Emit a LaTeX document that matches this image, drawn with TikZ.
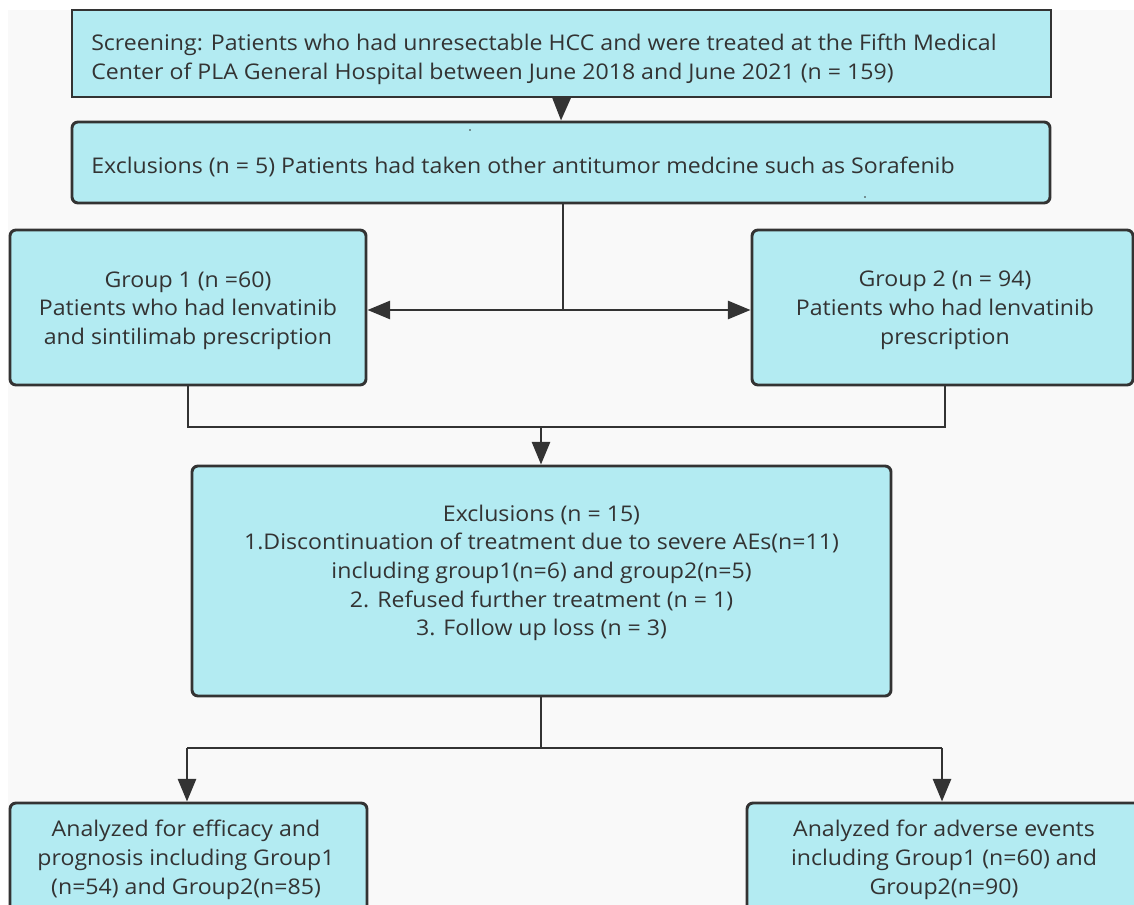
\documentclass[tikz,border=0pt]{standalone}
\usepackage{fontspec}
\setmainfont[FakeStretch=1.07]{Open Sans}
\usetikzlibrary{arrows.meta}
\definecolor{boxfill}{HTML}{B3EBF2}
\definecolor{ink}{HTML}{333333}
\definecolor{txtc}{HTML}{333333}
\definecolor{bggray}{HTML}{F9F9F9}
\tikzset{
  box/.style={draw=ink, fill=boxfill, line width=2.2pt, rounded corners=4.5pt, inner sep=0pt},
  sharpbox/.style={box, rounded corners=0pt},
  txt/.style={text=txtc, font=\fontsize{16.2}{21.5}\selectfont, align=center, inner sep=0pt, yshift=-2.2pt},
  conn/.style={draw=ink, line width=2.1pt},
  arr/.style={conn, -{Triangle[length=17pt,width=13.5pt]}},
}
\begin{document}
\begin{tikzpicture}[x=0.75pt,y=-0.75pt]
\useasboundingbox (0,0) rectangle (1134,905);
\clip (0,0) rectangle (1134,905);
\fill[bggray] (8,10) rectangle (1134,905);
% boxes
\node[sharpbox, minimum width=734.25pt, minimum height=65.25pt] (top) at (561.5,53.5) {};
\node[txt, align=left, anchor=west] (topt) at (91,56.5) {Screening: Patients who had unresectable HCC and were treated at the Fifth Medical\\Center of PLA General Hospital between June 2018 and June 2021 (n = 159)};
\node[box, minimum width=733.5pt, minimum height=60.75pt] (excl) at (561,162.5) {};
\node[txt, anchor=west] (exclt) at (91,164) {Exclusions (n = 5) Patients had taken other antitumor medcine such as Sorafenib};
\node[box, minimum width=267pt, minimum height=116.25pt] (g1) at (188,307.5) {};
\node[txt] (g1t) at (188,307.5) {Group 1 (n =60)\\Patients who had lenvatinib\\and sintilimab prescription};
\node[box, minimum width=285.75pt, minimum height=116.25pt] (g2) at (942.5,307.5) {};
\node[txt] (g2t) at (945,307.5) {Group 2 (n = 94)\\Patients who had lenvatinib\\prescription};
\node[box, minimum width=524.25pt, minimum height=172.5pt] (e15) at (541.5,581) {};
\node[txt] (e15t) at (541.5,570) {Exclusions (n = 15)\\1.Discontinuation of treatment due to severe AEs(n=11)\\including group1(n=6) and group2(n=5)\\2. Refused further treatment (n = 1)\\3. Follow up loss (n = 3)};
\node[box, minimum width=267.75pt, minimum height=84pt] (bl) at (188.5,859) {};
\node[txt] (blt) at (186,857) {Analyzed for efficacy and\\prognosis including Group1\\(n=54) and Group2(n=85)};
\node[box, minimum width=298.5pt, minimum height=84pt] (br) at (946,859) {};
\node[txt] (brt) at (944,857) {Analyzed for adverse events\\including Group1 (n=60) and\\Group2(n=90)};
% stray dots
\fill[ink] (470,130) circle (0.9);
\fill[ink] (865,197) circle (0.9);
% connectors
\draw[arr] (top.south) -- (excl.north);
\coordinate (j1) at (563,310);
\draw[conn] (excl.south -| j1) -- (j1);
\draw[arr] (j1) -- (j1 -| g1.east);
\draw[arr] (j1) -- (j1 -| g2.west);
\coordinate (j2l) at (188,427);
\coordinate (j2r) at (945,427);
\coordinate (j2) at (541,427);
\draw[conn] (j2l |- g1.south) -- (j2l) -- (j2r) -- (j2r |- g2.south);
\draw[arr] (j2) -- (j2 |- e15.north);
\coordinate (j3) at (541,748);
\coordinate (j3l) at (187,748);
\coordinate (j3r) at (942,748);
\draw[conn] (j3 |- e15.south) -- (j3);
\draw[conn] (j3l) -- (j3r);
\draw[arr] (j3l) -- (j3l |- bl.north);
\draw[arr] (j3r) -- (j3r |- br.north);
\end{tikzpicture}
\end{document}
